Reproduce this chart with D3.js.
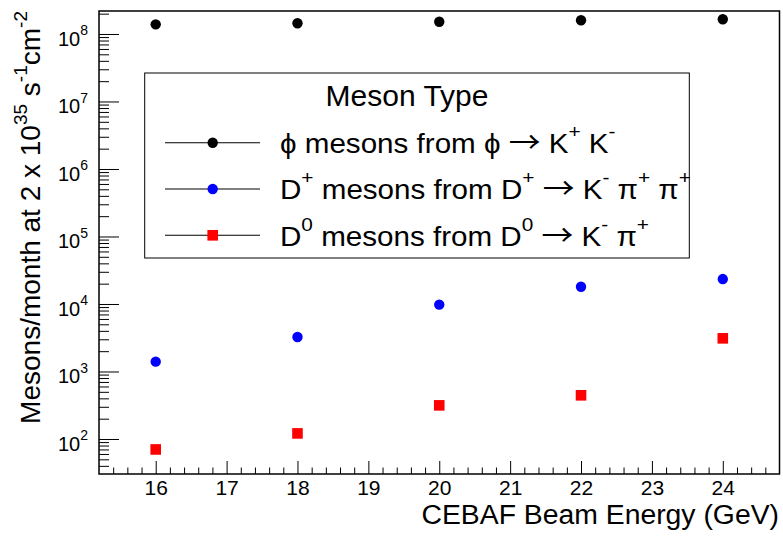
<!DOCTYPE html>
<html>
<head>
<meta charset="utf-8">
<script src="https://cdn.jsdelivr.net/npm/d3@7"></script>
<style>
  body { margin: 0; background: #fff; }
  svg { display: block; }
  text { font-family: "Liberation Sans", Arial, Helvetica, sans-serif; fill: #000; white-space: pre; }
</style>
</head>
<body>
<svg id="chart" width="783" height="538"></svg>
<script>
// Beam energies (GeV) and yields per month at 2 x 10^35 s^-1 cm^-2
const energies = [16, 18, 20, 22, 24];
const phiCounts = [1.39e8, 1.44e8, 1.52e8, 1.60e8, 1.65e8];
const dPlusCounts = [1400, 3240, 9770, 18000, 23400];
const dZeroCounts = [70, 121, 315, 444, 3100];

// Axis ticks
const xMajorTicks = [16, 17, 18, 19, 20, 21, 22, 23, 24];
const yDecadeExponents = [2, 3, 4, 5, 6, 7, 8];

// Text pieces: [text, kind] where kind is "n" normal, "s" superscript, "a" arrow
const legendTitle = "Meson Type";
const legendLabels = [
  [["\u03D5 mesons from \u03D5 ", "n"], ["\u2192", "a"], [" K", "n"], ["+", "s"], [" K", "n"], ["-", "s"]],
  [["D", "n"], ["+", "s"], [" mesons from D", "n"], ["+", "s"], [" ", "n"], ["\u2192", "a"], [" K", "n"], ["-", "s"], [" \u03C0", "n"], ["+", "s"], [" \u03C0", "n"], ["+", "s"]],
  [["D", "n"], ["0", "s"], [" mesons from D", "n"], ["0", "s"], [" ", "n"], ["\u2192", "a"], [" K", "n"], ["-", "s"], [" \u03C0", "n"], ["+", "s"]]
];
const yTitle = [["Mesons/month at 2 x 10", "n"], ["35", "s"], [" s", "n"], ["-1", "s"], ["cm", "n"], ["-2", "s"]];
const xTitle = "CEBAF Beam Energy (GeV)";

const W = 783, H = 538;
const frame = { left: 99, right: 779.5, top: 11, bottom: 474 };

const x = d3.scaleLinear().domain([15.2, 24.8]).range([frame.left, frame.right]);
const y = d3.scaleLog().domain([30.3, 2.19e8]).range([frame.bottom, frame.top]);

const svg = d3.select("#chart");
svg.append("rect").attr("width", W).attr("height", H).attr("fill", "#fff");

// Appends tspans for normal / superscript / arrow pieces, restoring the baseline after each raise
function richText(sel, parts, sizes) {
  let cur = 0;
  parts.forEach(([t, kind]) => {
    const target = kind === "s" ? -sizes.raise : 0;
    const ts = sel.append("tspan")
      .attr("dy", target - cur)
      .attr("font-size", kind === "s" ? sizes.sup : kind === "a" ? sizes.arrow : sizes.base)
      .text(t);
    if (kind === "a") ts.attr("font-family", '"Noto Sans CJK JP", "DejaVu Sans", sans-serif');
    cur = target;
  });
}

// ---- X axis ticks (pointing into the frame) ----
const xMinorTicks = d3.range(0, 47).map(i => +(15.4 + i * 0.2).toFixed(1))
  .filter(v => v < 24.8 && Math.abs(v - Math.round(v)) > 1e-6);

const gxMinor = svg.append("g").attr("transform", `translate(0,${frame.bottom})`)
  .call(d3.axisBottom(x).tickValues(xMinorTicks).tickSize(-6.5).tickFormat(""));
const gxMajor = svg.append("g").attr("transform", `translate(0,${frame.bottom})`)
  .call(d3.axisBottom(x).tickValues(xMajorTicks).tickSize(-13).tickPadding(6).tickFormat(d3.format("d")));
[gxMinor, gxMajor].forEach(g => {
  g.select(".domain").remove();
  g.selectAll(".tick line").attr("stroke", "#000").attr("stroke-width", 1);
});
gxMajor.selectAll(".tick text")
  .attr("font-size", 21)
  .attr("font-family", '"Liberation Sans", Arial, sans-serif')
  .attr("fill", "#000");

// ---- Y axis ticks (log, pointing into the frame) ----
const yMinorTicks = [];
for (let e = 1; e <= 8; e++) {
  for (let m = 2; m <= 9; m++) {
    const v = m * Math.pow(10, e);
    if (v >= y.domain()[0] && v <= y.domain()[1]) yMinorTicks.push(v);
  }
}
const yMajorTicks = yDecadeExponents.map(e => Math.pow(10, e));

const gyMinor = svg.append("g").attr("transform", `translate(${frame.left},0)`)
  .call(d3.axisLeft(y).tickValues(yMinorTicks).tickSize(-10).tickFormat(""));
const gyMajor = svg.append("g").attr("transform", `translate(${frame.left},0)`)
  .call(d3.axisLeft(y).tickValues(yMajorTicks).tickSize(-20).tickPadding(11).tickFormat(""));
[gyMinor, gyMajor].forEach(g => {
  g.select(".domain").remove();
  g.selectAll(".tick line").attr("stroke", "#000").attr("stroke-width", 1);
});
gyMajor.selectAll(".tick text")
  .attr("dy", null)
  .attr("y", 11.5)
  .attr("font-family", '"Liberation Sans", Arial, sans-serif')
  .attr("fill", "#000")
  .each(function (d, i) {
    richText(d3.select(this), [["10", "n"], [String(yDecadeExponents[i]), "s"]],
      { base: 20, sup: 14, raise: 10.5 });
  });

// ---- Frame ----
svg.append("rect")
  .attr("x", frame.left).attr("y", frame.top)
  .attr("width", frame.right - frame.left).attr("height", frame.bottom - frame.top)
  .attr("fill", "none").attr("stroke", "#000").attr("stroke-width", 1.5);

// ---- Data markers ----
const plot = svg.append("g");
const R = 5.2, S = 10.6;
plot.selectAll("circle.phi").data(energies.map((e, i) => [e, phiCounts[i]]))
  .join("circle").attr("class", "phi")
  .attr("cx", d => x(d[0])).attr("cy", d => y(d[1])).attr("r", R).attr("fill", "#000");
plot.selectAll("circle.dplus").data(energies.map((e, i) => [e, dPlusCounts[i]]))
  .join("circle").attr("class", "dplus")
  .attr("cx", d => x(d[0])).attr("cy", d => y(d[1])).attr("r", R).attr("fill", "#0000ff");
plot.selectAll("rect.dzero").data(energies.map((e, i) => [e, dZeroCounts[i]]))
  .join("rect").attr("class", "dzero")
  .attr("x", d => x(d[0]) - S / 2).attr("y", d => y(d[1]) - S / 2)
  .attr("width", S).attr("height", S).attr("fill", "#ff0000");

// ---- Legend ----
const legend = { x0: 144.7, x1: 689.3, y0: 73, y1: 258 };
const lg = svg.append("g");
lg.append("rect")
  .attr("x", legend.x0).attr("y", legend.y0)
  .attr("width", legend.x1 - legend.x0).attr("height", legend.y1 - legend.y0)
  .attr("fill", "#fff").attr("stroke", "#000").attr("stroke-width", 1);
lg.append("text").attr("x", 407).attr("y", 106).attr("text-anchor", "middle")
  .attr("font-size", 30).text(legendTitle);

const rowY = [142.7, 189, 235.3];
const markerStyles = [
  { shape: "circle", fill: "#000" },
  { shape: "circle", fill: "#0000ff" },
  { shape: "square", fill: "#ff0000" }
];
rowY.forEach((ry, i) => {
  lg.append("line").attr("x1", 165).attr("x2", 260).attr("y1", ry).attr("y2", ry)
    .attr("stroke", i === 1 ? "#555" : "#000").attr("stroke-width", i === 1 ? 1.6 : 1.1);
  const m = markerStyles[i];
  if (m.shape === "circle") {
    lg.append("circle").attr("cx", 212.7).attr("cy", ry).attr("r", R).attr("fill", m.fill);
  } else {
    lg.append("rect").attr("x", 212.7 - S / 2).attr("y", ry - S / 2)
      .attr("width", S).attr("height", S).attr("fill", m.fill);
  }
  const t = lg.append("text")
    .attr("transform", `translate(280,${ry + 10.4}) scale(1.096,1)`);
  richText(t, legendLabels[i], { base: 27, sup: 19, raise: 15, arrow: 29 });
});

// ---- Axis titles ----
const yt = svg.append("text")
  .attr("transform", `translate(40,${frame.top}) rotate(-90)`)
  .attr("text-anchor", "end");
richText(yt, yTitle, { base: 28, sup: 19, raise: 13 });

svg.append("text")
  .attr("transform", "translate(779,524) scale(1.05,1)")
  .attr("text-anchor", "end")
  .attr("font-size", 27).text(xTitle);
</script>
</body>
</html>
